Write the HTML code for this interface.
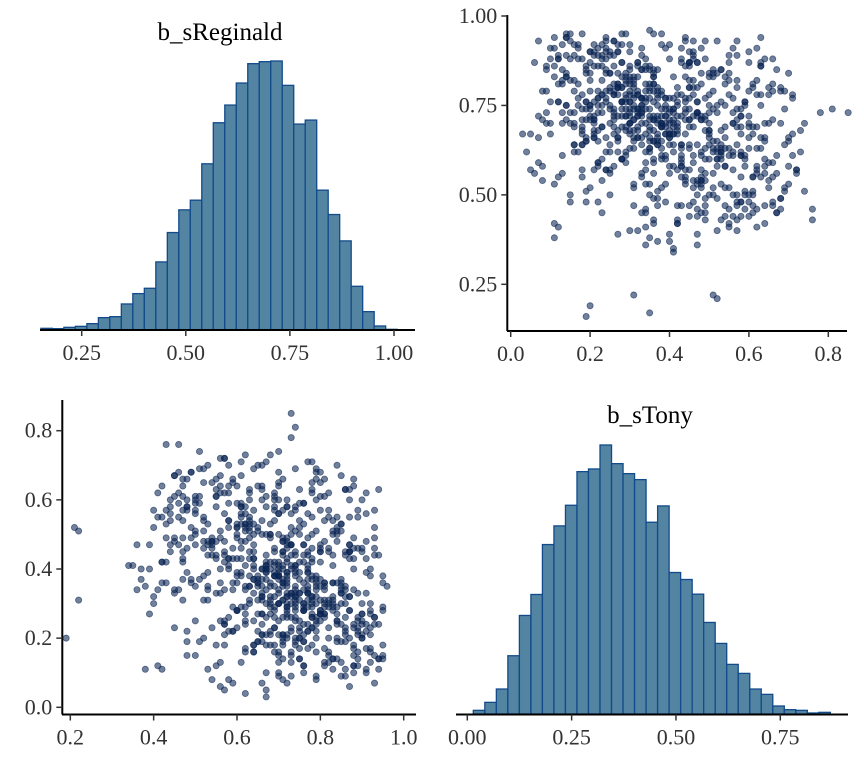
<!DOCTYPE html>
<html><head><meta charset="utf-8">
<style>
html,body{margin:0;padding:0;background:#fff;}
svg{display:block;}
svg text{font-family:"Liberation Serif","Times New Roman",serif;}
</style></head>
<body>
<svg id="chart" width="864" height="768" viewBox="0 0 864 768" xmlns="http://www.w3.org/2000/svg" font-family="Liberation Serif, serif">
<defs>
<clipPath id="clipUR"><rect x="508" y="10" width="345" height="320"/></clipPath>
<clipPath id="clipLL"><rect x="63" y="395" width="350" height="319"/></clipPath>
</defs>
</svg>
<script>
// Histogram data (relative bar heights)
const regBinStart = 0.152;
const regBinWidth = 0.0276;
const regCounts = [5,4,8,11,19,37,40,78,109,125,204,292,360,389,498,621,674,740,798,804,806,733,617,629,419,346,267,131,55,12,2];
const tonyBinStart = 0.0144;
const tonyBinWidth = 0.0276;
const tonyCounts = [11,35,75,175,296,359,509,565,627,728,736,808,752,722,704,576,625,425,404,360,275,212,149,122,75,59,24,13,11,3,5];
// Tick labels
const regHistTicks = [0.25,0.5,0.75,1.0];
const tonyHistTicks = [0,0.25,0.5,0.75];
const urXTicks = [0,0.2,0.4,0.6,0.8];
const urYTicks = [0.25,0.5,0.75,1.0];
const llXTicks = [0.2,0.4,0.6,0.8,1.0];
const llYTicks = [0,0.2,0.4,0.6,0.8];
// Paired posterior draws
const sTony = [.35,.22,.41,.30,.48,.27,.38,.15,.33,.44,.29,.52,.36,.19,.40,.31,.25,.46,.34,.58,
.28,.39,.12,.43,.32,.24,.37,.55,.21,.45,.30,.35,.62,.26,.42,.18,.33,.49,.38,.27,
.41,.23,.36,.31,.50,.16,.44,.29,.34,.39,.20,.47,.37,.26,.53,.32,.10,.43,.35,.28,
.38,.57,.24,.40,.33,.21,.46,.30,.36,.65,.27,.42,.14,.34,.51,.29,.39,.23,.45,.31,
.37,.19,.48,.32,.26,.41,.35,.60,.22,.44,.30,.38,.17,.47,.33,.28,.54,.36,.25,.40,
.31,.43,.20,.37,.29,.50,.34,.13,.42,.27,.39,.56,.32,.24,.45,.35,.68,.30,.41,.22,
.36,.28,.47,.18,.33,.40,.25,.52,.38,.31,.44,.21,.35,.59,.27,.43,.09,.37,.32,.49,
.26,.39,.34,.46,.23,.41,.30,.55,.36,.16,.42,.29,.48,.33,.71,.25,.38,.20,.45,.31,
.40,.34,.27,.51,.22,.37,.43,.30,.63,.35,.19,.46,.28,.39,.32,.53,.24,.41,.36,.11,
.44,.29,.38,.57,.33,.21,.47,.35,.26,.42,.31,.66,.37,.23,.49,.30,.40,.17,.34,.45,
.28,.50,.36,.25,.43,.32,.61,.39,.20,.46,.34,.27,.41,.54,.31,.15,.38,.44,.29,.36,
.48,.24,.35,.40,.30,.58,.33,.22,.45,.37,.12,.42,.28,.51,.36,.26,.74,.39,.32,.47,
.21,.38,.43,.31,.56,.34,.27,.41,.19,.46,.35,.30,.52,.25,.40,.33,.64,.37,.23,.44,
.29,.36,.49,.26,.42,.32,.18,.45,.38,.60,.31,.24,.47,.35,.28,.41,.55,.34,.14,.39,
.33,.45,.27,.40,.36,.22,.50,.30,.43,.37,.69,.25,.39,.32,.48,.20,.42,.35,.57,.29,
.38,.23,.44,.34,.52,.28,.41,.16,.36,.47,.31,.62,.26,.40,.33,.45,.21,.37,.54,.30,
.42,.35,.19,.48,.32,.27,.39,.58,.24,.43,.36,.30,.51,.22,.41,.34,.78,.28,.46,.37,
.31,.53,.25,.38,.44,.20,.35,.49,.29,.40,.13,.45,.33,.61,.27,.42,.36,.23,.47,.32,
.39,.26,.43,.34,.56,.30,.37,.18,.46,.41,.28,.50,.35,.24,.44,.67,.31,.38,.21,.48,
.33,.40,.29,.53,.36,.25,.45,.32,.59,.42,.37,.22,.47,.30,.81,.03,.05,.07,.72,.76,
.19,.20,.35,.51,.52,.31,.14,.85,
.12,.55,.08,.47,.63,.21,.58,.30,.70,.17,.52,.26,.61,.05,.44,.66,.23,.50,.14,.57,
.60,.11,.49,.33,.72,.19,.56,.06,.42,.64,.28,.53,.09,.46,.68,.16,.59,.37,.24,.51,
.07,.62,.40,.18,.54,.27,.73,.13,.48,.35,.65,.22,.57,.10,.43,.69,.31,.50,.15,.60,
.25,.58,.04,.45,.67,.20,.52,.34,.71,.12,.55,.29,.63,.08,.47,.39,.18,.61,.26,.53,
.66,.14,.49,.36,.59,.23,.74,.11,.44,.57,.30,.64,.06,.51,.40,.19,.62,.27,.48,.16,
.54,.09,.68,.32,.45,.21,.60,.13,.50,.38,.70,.24,.56,.10,.47,.65,.29,.52,.17,.43,
.61,.15,.55,.35,.76,.20,.49,.07,.58,.33,.66,.25,.46,.12,.63,.41,.18,.54,.28,.69,
.22,.57,.10,.48,.64,.31,.53,.16,.72,.37,.45,.21,.60,.08,.51,.34,.67,.26,.43,.14,
.59,.19,.50,.39,.62,.24,.56,.11,.47,.70,.30,.55,.15,.64,.36,.49,.23,.58,.09,.45,
.18,.61,.33,.52,.27,.68,.13,.46,.57,.22,.63,.40,.16,.54,.29,.71,.20,.48,.35,.60,
.14,.53,.42,.66,.25,.50,.07,.59,.32,.45,.19,.62,.38,.56,.11,.47,.65,.28,.51,.23,
.57,.17,.64,.30,.49,.21,.58,.36,.69,.12,.54,.26,.61,.15,.44,.73,.33,.52,.18,.46,
.63,.24,.55,.10,.48,.39,.67,.20,.53,.29,.60,.14,.50,.34,.57,.22,.65,.08,.43,.58,
.27,.62,.16,.51,.37,.70,.23,.46,.13,.56,.31,.64,.19,.49,.41,.59,.25,.54,.11,.66,
.35,.48,.21,.61,.28,.52,.17,.57,.44,.68,.14,.50,.32,.63,.24,.55,.09,.47,.38,.60,
.20,.58,.30,.53,.15,.65,.26,.49,.36,.62,.18,.56,.43,.71,.22,.51,.12,.59,.34,.45,
.66,.27,.54,.19,.61,.33,.48,.13,.57,.40,.69,.23,.52,.16,.63,.29,.46,.37,.58,.21,
.50,.14,.62,.31,.55,.25,.67,.18,.47,.42,.60,.11,.53,.35,.64,.20,.56,.28,.49,.17,
.59,.32,.45,.22,.66,.38,.52,.15,.61,.27,.54,.19,.70,.34,.48,.24,.57,.12,.63,.41,
.26,.55,.18,.60,.30,.51,.13,.64,.36,.49,.21,.58,.40,.68,.16,.53,.33,.62,.23,.47];
const sReginald = [.68,.75,.62,.81,.55,.72,.70,.88,.64,.77,.59,.73,.85,.66,.71,.52,.79,.69,.74,.61,
.83,.67,.76,.58,.72,.90,.65,.78,.70,.47,.74,.80,.63,.86,.69,.57,.75,.71,.92,.66,
.73,.54,.79,.68,.84,.62,.71,.77,.45,.69,.82,.64,.75,.72,.60,.87,.67,.78,.50,.74,
.70,.80,.66,.73,.56,.76,.89,.63,.71,.78,.68,.42,.75,.81,.65,.72,.60,.86,.69,.77,
.64,.74,.71,.83,.58,.67,.79,.72,.91,.53,.76,.69,.62,.80,.73,.87,.66,.49,.75,.70,
.78,.61,.72,.85,.68,.75,.57,.82,.70,.65,.77,.73,.40,.88,.71,.63,.79,.67,.74,.59,
.81,.69,.76,.55,.72,.66,.84,.62,.78,.71,.93,.68,.74,.51,.80,.64,.70,.77,.86,.60,
.73,.67,.79,.48,.75,.70,.83,.63,.76,.69,.57,.81,.72,.66,.78,.89,.61,.74,.44,.71,
.67,.77,.84,.62,.73,.79,.58,.70,.75,.86,.65,.72,.80,.53,.69,.76,.91,.64,.71,.38,
.74,.82,.60,.69,.77,.72,.50,.85,.67,.75,.63,.79,.70,.88,.56,.73,.66,.81,.46,.71,
.76,.64,.72,.84,.59,.78,.69,.74,.87,.61,.70,.80,.35,.75,.66,.82,.72,.54,.78,.68,
.71,.85,.63,.77,.92,.69,.74,.58,.80,.67,.76,.43,.72,.83,.65,.89,.70,.61,.78,.73,
.66,.79,.55,.74,.70,.86,.62,.77,.71,.52,.81,.68,.75,.90,.64,.73,.47,.80,.69,.76,
.83,.60,.72,.78,.67,.74,.88,.57,.70,.79,.65,.94,.73,.62,.76,.69,.84,.41,.71,.77,
.70,.63,.81,.74,.56,.77,.68,.85,.72,.66,.79,.50,.75,.87,.61,.71,.78,.65,.82,.69,
.74,.89,.67,.76,.60,.80,.71,.64,.84,.73,.53,.78,.69,.37,.75,.82,.66,.72,.58,.79,
.68,.77,.86,.62,.74,.81,.70,.55,.76,.91,.65,.72,.79,.48,.83,.67,.73,.60,.78,.71,
.75,.64,.80,.69,.57,.84,.72,.77,.62,.88,.70,.74,.45,.81,.66,.76,.59,.73,.87,.68,
.72,.79,.63,.85,.70,.76,.51,.67,.82,.74,.60,.78,.69,.93,.73,.56,.80,.65,.71,.84,
.77,.68,.74,.61,.81,.70,.87,.66,.75,.72,.64,.79,.39,.90,.74,.67,.57,.66,.56,.46,
.16,.19,.17,.22,.21,.22,.95,.73,
.88,.52,.71,.44,.63,.90,.48,.82,.58,.75,.40,.93,.55,.67,.86,.47,.78,.60,.94,.50,
.69,.83,.45,.91,.57,.76,.62,.87,.42,.65,.95,.53,.73,.80,.49,.89,.61,.37,.84,.56,
.72,.46,.92,.64,.81,.39,.68,.85,.54,.96,.59,.77,.43,.70,.88,.51,.83,.66,.48,.90,
.57,.74,.62,.87,.45,.79,.93,.53,.67,.81,.41,.72,.86,.58,.36,.91,.64,.47,.78,.85,
.55,.89,.68,.42,.76,.60,.51,.94,.83,.47,.70,.88,.56,.74,.39,.65,.82,.92,.52,.79,
.63,.86,.49,.73,.90,.57,.44,.81,.67,.95,.53,.77,.61,.88,.46,.70,.84,.58,.91,.64,
.80,.50,.87,.66,.43,.75,.93,.59,.72,.85,.48,.62,.90,.55,.78,.34,.69,.83,.60,.52,
.89,.64,.76,.54,.42,.81,.68,.92,.57,.47,.86,.71,.63,.79,.50,.88,.45,.74,.60,.94,
.58,.84,.70,.48,.91,.62,.77,.53,.87,.66,.40,.82,.73,.56,.95,.49,.69,.61,.85,.77,
.74,.51,.89,.63,.80,.46,.92,.59,.71,.86,.55,.67,.82,.44,.76,.61,.90,.53,.38,.70,
.83,.62,.47,.88,.56,.73,.93,.50,.79,.64,.85,.41,.69,.57,.91,.76,.52,.87,.63,.45,
.48,.92,.60,.78,.54,.86,.67,.43,.74,.89,.58,.81,.50,.70,.94,.62,.55,.84,.71,.88,
.66,.79,.46,.91,.57,.72,.85,.52,.63,.95,.48,.75,.83,.59,.40,.68,.80,.54,.87,.62,
.90,.56,.73,.84,.49,.65,.78,.93,.61,.44,.82,.70,.51,.88,.58,.76,.64,.47,.86,.71,
.53,.81,.67,.45,.92,.60,.77,.89,.55,.70,.84,.50,.66,.94,.57,.42,.79,.72,.63,.87,
.75,.48,.86,.62,.95,.54,.71,.43,.83,.58,.68,.91,.47,.77,.65,.52,.88,.60,.36,.80,
.59,.90,.52,.76,.67,.85,.45,.73,.93,.56,.64,.82,.49,.70,.87,.61,.54,.78,.44,.92,
.68,.83,.57,.47,.89,.74,.61,.95,.53,.80,.66,.42,.85,.71,.58,.90,.50,.76,.63,.88,
.46,.72,.87,.59,.81,.52,.65,.93,.55,.78,.69,.48,.84,.62,.91,.57,.74,.41,.86,.67,
.93,.61,.78,.50,.70,.85,.56,.66,.83,.47,.89,.72,.58,.80,.64,.43,.77,.69,.92,.54];

const svg = document.getElementById('chart');
const NS = 'http://www.w3.org/2000/svg';
const FONT = '"Liberation Serif", "Times New Roman", serif';
function mk(tag, attrs, parent){const e=document.createElementNS(NS,tag);for(const k in attrs)e.setAttribute(k,attrs[k]);(parent||svg).appendChild(e);return e;}
function lin(d0,d1,r0,r1){return v=>r0+(v-d0)*(r1-r0)/(d1-d0);}
function fmt(v,d){return v.toFixed(d);}
function txt(g,x,y,anchor,size,fill,s){
  const t=mk('text',{x:x,y:y,'text-anchor':anchor,'font-size':size,fill:fill},g);
  t.style.fontFamily=FONT;
  t.textContent=s;
  return t;
}

function xAxis(g,x,y0,xa,xb,ticks,dec){
  const l=mk('line',{x1:xa,x2:xb,y1:y0,y2:y0,stroke:'#000','stroke-width':2},g);
  
  
  ticks.forEach(t=>{
    mk('line',{x1:x(t),x2:x(t),y1:y0,y2:y0+6,stroke:'#333','stroke-width':1.5},g);
    const tx=txt(g,x(t),y0+30,'middle',22,'#333',fmt(t,dec));
    
    
  });
}
function yAxis(g,y,x0,ya,yb,ticks,dec){
  const l=mk('line',{x1:x0,x2:x0,y1:ya,y2:yb,stroke:'#000','stroke-width':2},g);
  
  
  ticks.forEach(t=>{
    mk('line',{x1:x0-6,x2:x0,y1:y(t),y2:y(t),stroke:'#333','stroke-width':1.5},g);
    const tx=txt(g,x0-10,y(t)+7,'end',22,'#333',fmt(t,dec));
    
    
  });
}
function hist(g,counts,start,w,x,base,topY,name){
  const mx=Math.max(...counts);
  counts.forEach((c,i)=>{
    const x0=x(start+i*w),x1=x(start+(i+1)*w);
    const h=c/mx*(base-topY);
    const r=mk('rect',{x:x0,y:base-h,width:x1-x0,height:h,fill:'#5384a2',stroke:'#124a8a','stroke-width':1.3},g);
    
    
  });
}
function scatter(g,xs,ys,x,y){
  xs.forEach((v,i)=>{
    const c=mk('circle',{cx:x(v),cy:y(ys[i]),r:3.1,fill:'#0b2452','fill-opacity':0.58,stroke:'#0b2452','stroke-opacity':0.58,'stroke-width':0.8},g);
    
    
  });
}

// Panel 1: b_sReginald histogram
const g1=mk('g',{});


const x1=lin(0.25,1.0,81.7,394);
hist(g1,regCounts,regBinStart,regBinWidth,x1,330,61,'reginald');
xAxis(g1,x1,330,40,415,regHistTicks,2);
const t1=txt(g1,220,40,'middle',25,'#000','b_sReginald');



// Panel 2: scatter tony (x) vs reginald (y)
const g2=mk('g',{});


const x2=lin(0,0.8,510.7,828.3), y2=lin(0.25,1.0,284.3,16);
const g2p=mk('g',{'clip-path':'url(#clipUR)'},g2);
scatter(g2p,sTony,sReginald,x2,y2);
xAxis(g2,x2,331,507,847,urXTicks,1);
yAxis(g2,y2,507.3,15,331,urYTicks,2);

// Panel 3: scatter reginald (x) vs tony (y)
const g3=mk('g',{});


const x3=lin(0.2,1.0,70.3,403.7), y3=lin(0,0.8,707.3,430.7);
const g3p=mk('g',{'clip-path':'url(#clipLL)'},g3);
scatter(g3p,sReginald,sTony,x3,y3);
xAxis(g3,x3,714.5,62,416,llXTicks,1);
yAxis(g3,y3,62.3,400,714.5,llYTicks,1);

// Panel 4: b_sTony histogram
const g4=mk('g',{});


const x4=lin(0,0.75,467.3,780.3);
hist(g4,tonyCounts,tonyBinStart,tonyBinWidth,x4,714,445,'tony');
xAxis(g4,x4,714.5,456,848,tonyHistTicks,2);
const t4=txt(g4,650,423,'middle',25,'#000','b_sTony');


</script>
</body></html>
